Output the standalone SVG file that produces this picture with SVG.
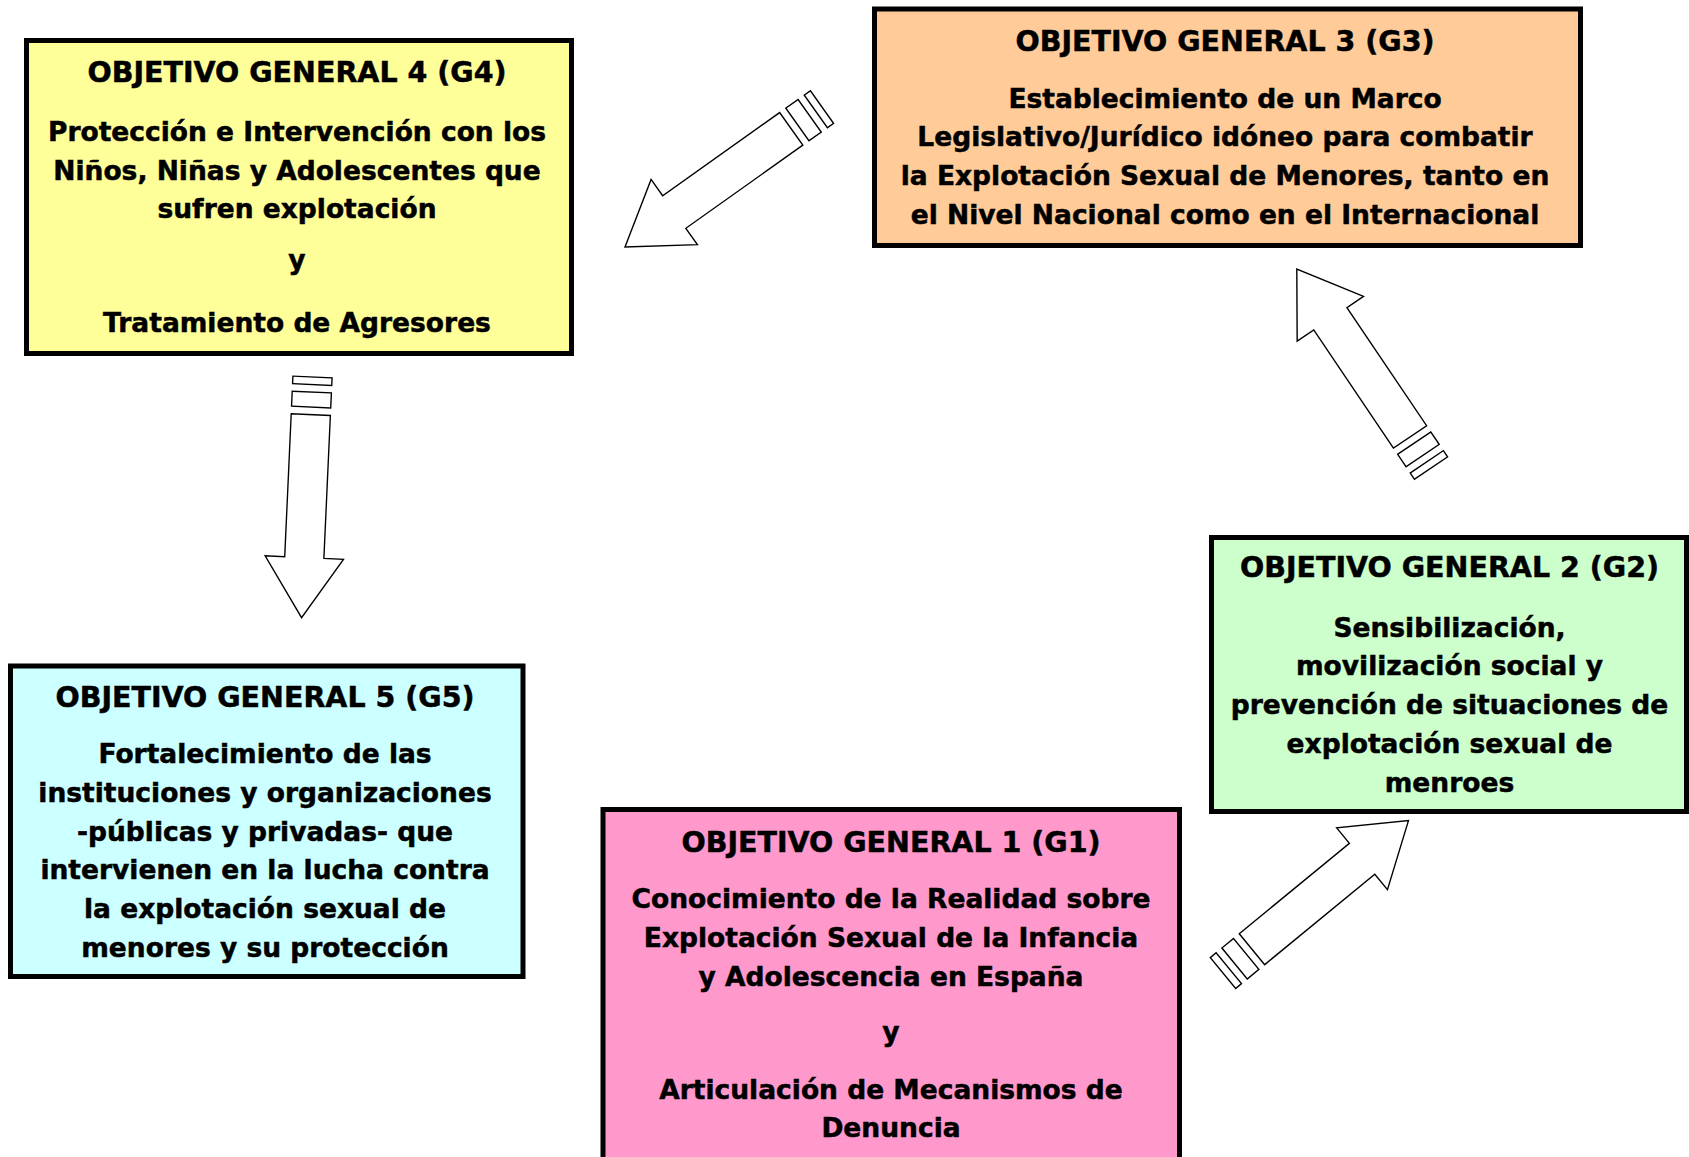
<svg xmlns="http://www.w3.org/2000/svg" width="1689" height="1157" viewBox="0 0 1689 1157">
<style>
.box{stroke:#000;stroke-width:5}
.t{font-family:"DejaVu Sans","Liberation Sans",sans-serif;font-weight:bold;text-anchor:middle;fill:#000;stroke:#000;stroke-width:0.5}
.h{font-size:28.5px}
.b{font-size:26.5px}
.arr{fill:#fff;stroke:#000;stroke-width:1.4;stroke-linejoin:miter}
</style>
<defs>
<g id="sarrow" class="arr">
<rect x="0" y="-20" width="7.5" height="40"/>
<rect x="15" y="-20" width="15" height="40"/>
<path d="M37.5,-20 H180 V-40 L240,0 L180,40 V20 H37.5 Z"/>
</g>
</defs>
<rect width="1689" height="1157" fill="#fff"/>

<g id="connectors">
<use href="#sarrow" transform="translate(822,107) rotate(144.6) scale(1.007,1)"/>
<use href="#sarrow" transform="translate(1431,468) rotate(-124)"/>
<use href="#sarrow" transform="translate(1223,973) rotate(-39.4)"/>
<use href="#sarrow" transform="translate(312.5,377) rotate(92.6) scale(1.004,0.98)"/>
</g>

<g id="G4">
<rect class="box" x="26.5" y="40.5" width="545" height="313" fill="#FFFF99"/>
<text class="t h" x="297" y="82">OBJETIVO GENERAL 4 (G4)</text>
<text class="t b" x="297" y="141">Protección e Intervención con los</text>
<text class="t b" x="297" y="179.5">Niños, Niñas y Adolescentes que</text>
<text class="t b" x="297" y="218">sufren explotación</text>
<text class="t b" x="297" y="269">y</text>
<text class="t b" x="297" y="332">Tratamiento de Agresores</text>
</g>

<g id="G3">
<rect class="box" x="874.5" y="9" width="706" height="236.5" fill="#FFCC99"/>
<text class="t h" x="1225" y="51">OBJETIVO GENERAL 3 (G3)</text>
<text class="t b" x="1225" y="107.5">Establecimiento de un Marco</text>
<text class="t b" x="1225" y="146.3">Legislativo/Jurídico idóneo para combatir</text>
<text class="t b" x="1225" y="185">la Explotación Sexual de Menores, tanto en</text>
<text class="t b" x="1225" y="223.8">el Nivel Nacional como en el Internacional</text>
</g>

<g id="G2">
<rect class="box" x="1211.5" y="537.5" width="475" height="274" fill="#CCFFCC"/>
<text class="t h" x="1449.5" y="577">OBJETIVO GENERAL 2 (G2)</text>
<text class="t b" x="1449.5" y="636.5">Sensibilización,</text>
<text class="t b" x="1449.5" y="675.3">movilización social y</text>
<text class="t b" x="1449.5" y="714.1">prevención de situaciones de</text>
<text class="t b" x="1449.5" y="752.9">explotación sexual de</text>
<text class="t b" x="1449.5" y="791.7">menroes</text>
</g>

<g id="G5">
<rect class="box" x="10.5" y="666" width="512.5" height="310.5" fill="#CCFFFF"/>
<text class="t h" x="265" y="707">OBJETIVO GENERAL 5 (G5)</text>
<text class="t b" x="265" y="763">Fortalecimiento de las</text>
<text class="t b" x="265" y="801.8">instituciones y organizaciones</text>
<text class="t b" x="265" y="840.6">-públicas y privadas- que</text>
<text class="t b" x="265" y="879.4">intervienen en la lucha contra</text>
<text class="t b" x="265" y="918.2">la explotación sexual de</text>
<text class="t b" x="265" y="957">menores y su protección</text>
</g>

<g id="G1">
<rect class="box" x="603" y="809.5" width="576.5" height="400" fill="#FF99CC"/>
<text class="t h" x="891" y="852">OBJETIVO GENERAL 1 (G1)</text>
<text class="t b" x="891" y="908">Conocimiento de la Realidad sobre</text>
<text class="t b" x="891" y="946.7">Explotación Sexual de la Infancia</text>
<text class="t b" x="891" y="986.3">y Adolescencia en España</text>
<text class="t b" x="891" y="1041">y</text>
<text class="t b" x="891" y="1099">Articulación de Mecanismos de</text>
<text class="t b" x="891" y="1137">Denuncia</text>
</g>
</svg>
